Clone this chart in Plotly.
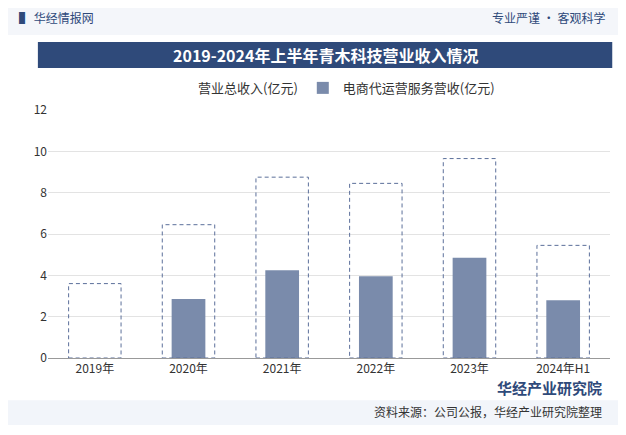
import plotly.graph_objects as go

years = ["2019年", "2020年", "2021年", "2022年", "2023年", "2024年H1"]
total_rev = [3.6, 6.45, 8.75, 8.45, 9.65, 5.45]
ecom_rev = [None, 2.85, 4.25, 3.95, 4.85, 2.8]
y_ticks = [0, 2, 4, 6, 8, 10, 12]

font = "Noto Sans CJK SC"

fig = go.Figure()
fig.add_trace(go.Bar(
    x=years, y=total_rev, name="营业总收入(亿元)", width=0.56,
    marker=dict(color="rgba(255,255,255,0)", line=dict(color="#5b6f9a", width=0)),
))
fig.add_trace(go.Bar(
    x=years, y=ecom_rev, name="电商代运营服务营收(亿元)", width=0.36,
    marker=dict(color="#7a8bab", line=dict(width=0)),
))

# dashed outlines for the total bars (plotly bars can't dash their border)
for i, v in enumerate(total_rev):
    fig.add_shape(type="rect", xref="x", yref="y", x0=i - 0.28, x1=i + 0.28, y0=0, y1=v,
                  line=dict(color="#5b6f9a", width=1, dash="4px,3px"), fillcolor="rgba(0,0,0,0)")

fig.update_layout(
    width=626, height=435, barmode="overlay",
    paper_bgcolor="white", plot_bgcolor="white",
    font=dict(family=font, size=12, color="#333"),
    margin=dict(l=40, r=24, t=102, b=85),
    showlegend=True,
    legend=dict(orientation="h", x=0.5, xanchor="center", y=1.089, yanchor="middle",
                font=dict(size=13, color="#333"), bgcolor="rgba(0,0,0,0)"),
    xaxis=dict(showline=True, linecolor="#999", ticks="", tickfont=dict(size=12, color="#333")),
    yaxis=dict(range=[0, 12], tickvals=y_ticks, showgrid=True, gridcolor="#e3e3e3",
               zeroline=False, tickfont=dict(size=12, color="#333")),
)

# header and title band
fig.add_shape(type="rect", xref="paper", yref="paper", x0=-0.09, x1=1.05, y0=1.302, y1=1.45,
              fillcolor="#f4f6fa", line_width=0, layer="below")
fig.add_shape(type="rect", xref="paper", yref="paper", x0=-0.018, x1=1.004, y0=1.169, y1=1.274,
              fillcolor="#2f4a7a", line_width=0)
fig.add_annotation(text="<b>2019-2024年上半年青木科技营业收入情况</b>", xref="paper", yref="paper",
                   x=0.493, y=1.222, yanchor="middle", showarrow=False,
                   font=dict(size=16, color="white", family=font))
fig.add_annotation(text="<b>▌</b> 华经情报网", xref="paper", yref="paper", x=-0.055, y=1.375,
                   xanchor="left", yanchor="middle", showarrow=False, font=dict(size=12, color="#2f4a7a"))
fig.add_annotation(text="专业严谨 • 客观科学", xref="paper", yref="paper", x=0.995, y=1.375,
                   xanchor="right", yanchor="middle", showarrow=False, font=dict(size=12, color="#2f4a7a"))
# footer
fig.add_shape(type="rect", xref="paper", yref="paper", x0=-0.09, x1=1.05, y0=-0.27, y1=-0.17,
              fillcolor="#f2f5fa", line_width=0, layer="below")
fig.add_annotation(text="资料来源：公司公报，华经产业研究院整理", xref="paper", yref="paper", x=0.99, y=-0.214,
                   xanchor="right", yanchor="middle", showarrow=False, font=dict(size=12, color="#333"))
fig.add_annotation(text="<b>华经产业研究院</b>", xref="paper", yref="paper", x=0.99, y=-0.117,
                   xanchor="right", yanchor="middle", showarrow=False, font=dict(size=15, color="#2f4a7a"))

fig.write_html("out.html")
